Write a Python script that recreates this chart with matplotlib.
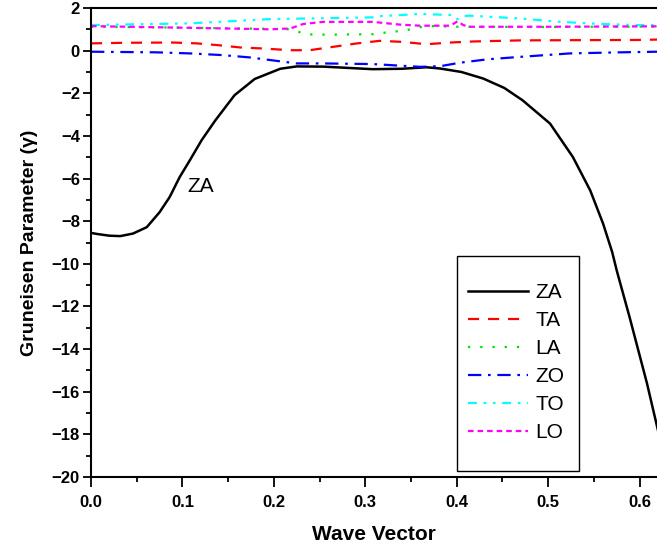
import matplotlib
matplotlib.use("Agg")
import matplotlib.pyplot as plt
from matplotlib.patches import Rectangle

plt.rcParams['font.family'] = ['Liberation Sans', 'DejaVu Sans']
plt.rcParams['axes.unicode_minus'] = True

# ---- data ----
za_x = [0.0, 0.0066, 0.02, 0.032, 0.046, 0.061, 0.075, 0.086, 0.097, 0.108, 0.121,
        0.136, 0.157, 0.179, 0.207, 0.225, 0.254, 0.308, 0.34, 0.367, 0.382, 0.405,
        0.429, 0.452, 0.472, 0.502, 0.527, 0.546, 0.560, 0.570, 0.575, 0.589, 0.608, 0.62]
za_y = [-8.55, -8.6, -8.68, -8.7, -8.58, -8.28, -7.58, -6.87, -5.93, -5.15, -4.2,
        -3.27, -2.09, -1.33, -0.85, -0.74, -0.75, -0.87, -0.85, -0.78, -0.84, -1.0,
        -1.31, -1.75, -2.33, -3.42, -4.99, -6.56, -8.11, -9.45, -10.32, -12.5, -15.6, -17.8]

ta_x = [0.0, 0.039, 0.090, 0.116, 0.138, 0.163, 0.188, 0.218, 0.239, 0.265, 0.291,
        0.316, 0.341, 0.367, 0.393, 0.418, 0.469, 0.524, 0.597, 0.62]
ta_y = [0.34, 0.37, 0.38, 0.34, 0.26, 0.15, 0.10, 0.02, 0.02, 0.18, 0.34,
        0.46, 0.41, 0.30, 0.38, 0.43, 0.48, 0.49, 0.5, 0.52]

la_x = [0.0, 0.1, 0.2, 0.218, 0.236, 0.26, 0.308, 0.316, 0.33, 0.345, 0.36, 0.374,
        0.4, 0.5, 0.62]
la_y = [1.12, 1.08, 1.02, 1.0, 0.76, 0.75, 0.77, 0.82, 0.88, 0.96, 1.1, 1.15,
        1.12, 1.11, 1.13]

zo_x = [0.0, 0.072, 0.108, 0.144, 0.174, 0.203, 0.225, 0.254, 0.308, 0.360, 0.382,
        0.403, 0.433, 0.470, 0.524, 0.578, 0.62]
zo_y = [-0.05, -0.08, -0.13, -0.21, -0.32, -0.48, -0.6, -0.6, -0.63, -0.76, -0.73,
        -0.57, -0.41, -0.29, -0.13, -0.08, -0.05]

to_x = [0.0, 0.108, 0.196, 0.239, 0.308, 0.316, 0.360, 0.396, 0.401, 0.408, 0.414,
        0.469, 0.513, 0.557, 0.597, 0.62]
to_y = [1.2, 1.28, 1.48, 1.51, 1.56, 1.62, 1.72, 1.67, 1.47, 1.62, 1.64,
        1.51, 1.35, 1.25, 1.2, 1.2]

lo_x = [0.0, 0.108, 0.196, 0.218, 0.232, 0.254, 0.308, 0.338, 0.360, 0.393, 0.401,
        0.407, 0.414, 0.5, 0.62]
lo_y = [1.15, 1.07, 1.0, 1.04, 1.25, 1.35, 1.35, 1.22, 1.17, 1.17, 1.38,
        1.2, 1.12, 1.12, 1.14]

x_ticks = [0.0, 0.1, 0.2, 0.3, 0.4, 0.5, 0.6]
y_ticks = [2, 0, -2, -4, -6, -8, -10, -12, -14, -16, -18, -20]

fig = plt.figure(figsize=(6.57, 5.52), dpi=100)
ax = fig.add_axes([91/657, 1-477/552, 566/657, 469/552])

lw = 1.6
ax.plot(za_x, za_y, color='black', lw=1.8, ls='-', label='ZA')
ax.plot(ta_x, ta_y, color='#ff0000', lw=lw, ls=(0, (5, 4)), label='TA')
ax.plot(la_x, la_y, color='#00dd00', lw=lw, ls=(0, (1, 4.5)), label='LA')
ax.plot(zo_x, zo_y, color='#0000ff', lw=lw, ls=(0, (6, 3, 1.2, 3)), label='ZO')
ax.plot(to_x, to_y, color='#00ffff', lw=lw, ls=(0, (4, 3, 1.2, 3, 1.2, 3)), label='TO')
ax.plot(lo_x, lo_y, color='#ff00ff', lw=lw, ls=(0, (2.5, 1.8)), label='LO')

ax.text(0.120, -6.37, 'ZA', fontsize=15, ha='center', va='center')

ax.set_xlim(0, 0.619)
ax.set_ylim(-20, 2)
ax.set_xticks(x_ticks)
ax.set_yticks(y_ticks)
ax.set_xticklabels([f'{v:.1f}' for v in x_ticks])
ax.set_yticklabels([str(v).replace('-', '\u2212') for v in y_ticks])
ax.set_xticks([0.05, 0.15, 0.25, 0.35, 0.45, 0.55], minor=True)
ax.set_yticks([1, -1, -3, -5, -7, -9, -11, -13, -15, -17, -19], minor=True)

for lab in ax.get_xticklabels() + ax.get_yticklabels():
    lab.set_fontweight('bold')
    lab.set_fontsize(12)

ax.tick_params(axis='x', which='major', direction='out', length=7, width=1.3, pad=6)
ax.tick_params(axis='x', which='minor', direction='out', length=3.8, width=1.3)
ax.tick_params(axis='y', which='major', direction='out', length=6, width=1.3, pad=2)
ax.tick_params(axis='y', which='minor', direction='out', length=3.3, width=1.3)
ax.tick_params(axis='x', which='both', top=False)
ax.tick_params(axis='y', which='both', right=False)

for s in ['left', 'bottom', 'top']:
    ax.spines[s].set_linewidth(1.5)
ax.spines['right'].set_visible(False)

ax.set_xlabel('Wave Vector', fontsize=15, fontweight='bold', labelpad=11)
ax.set_ylabel('Gruneisen Parameter (γ)', fontsize=14, fontweight='bold', labelpad=10)

frame = Rectangle((0.6466, 0.0128), 0.2155, 0.4584, transform=ax.transAxes,
                  facecolor='white', edgecolor='black', lw=1.0, zorder=4)
ax.add_patch(frame)
leg = ax.legend(loc='upper left', bbox_to_anchor=(0.6661, 0.4126), borderaxespad=0,
                fontsize=15, frameon=False, borderpad=0, labelspacing=0.43,
                handlelength=2.88, handletextpad=0.34)
leg.set_zorder(5)

fig.savefig('out.png', dpi=100)
